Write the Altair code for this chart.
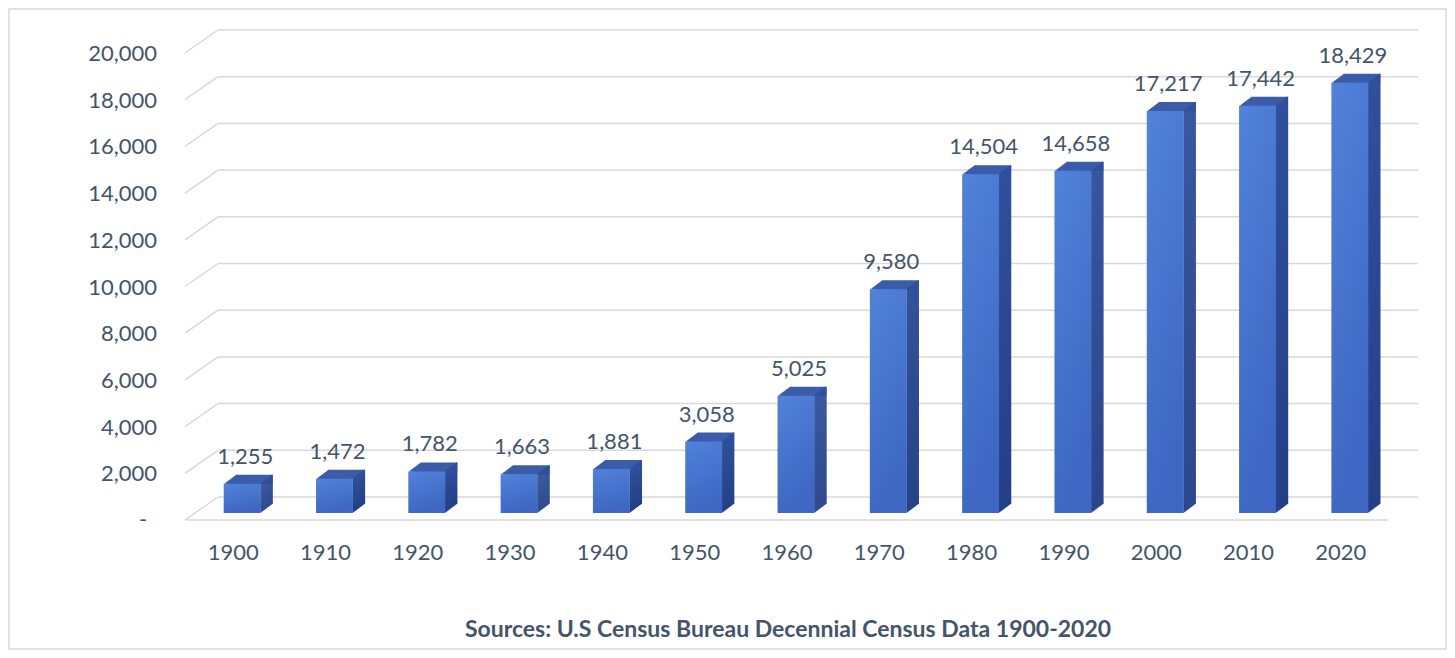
import altair as alt
import pandas as pd

# ---- data ----
years = [1900, 1910, 1920, 1930, 1940, 1950, 1960, 1970, 1980, 1990, 2000, 2010, 2020]
values = [1255, 1472, 1782, 1663, 1881, 3058, 5025, 9580, 14504, 14658, 17217, 17442, 18429]
y_ticks = [0, 2000, 4000, 6000, 8000, 10000, 12000, 14000, 16000, 18000, 20000]
source_text = "Sources: U.S Census Bureau Decennial Census Data 1900-2020"

# ---- styling ----
FONT = "Lato"
TEXT_COLOR = "#44546A"
GRID_COLOR = "#d9d9d9"
TOP_COLOR = "#3b5ca9"
DEPTH = 12          # px depth of the 3D bars
DEPTH_DY = 0.75     # vertical shift per px of depth
HALF = 2            # bar half-width in years

df = pd.DataFrame({"year": years, "value": values})
df["left"] = df["year"] - HALF
df["right"] = df["year"] + HALF
df["base"] = 0
ticks_df = pd.DataFrame({"tick": y_ticks})
one = pd.DataFrame({"a": [0]})

xscale = alt.Scale(domain=[1895, 2025], zero=False, nice=False)
yscale = alt.Scale(domain=[0, 20000], nice=False, zero=True)

base = alt.Chart(df)

# outer border
border = alt.Chart(one).mark_rect(
    fill="white", fillOpacity=0, stroke=GRID_COLOR, strokeWidth=1.5
).encode(
    x=alt.value(-187), x2=alt.value(1250), y=alt.value(-37), y2=alt.value(603)
)

# 3D-like gridlines: back wall lines, left side-wall diagonals, floor front edge
back_lines = alt.Chart(ticks_df).mark_rule(
    color=GRID_COLOR, strokeWidth=1.5, yOffset=-16
).encode(
    y=alt.Y("tick:Q", scale=yscale, axis=None),
    x=alt.value(22), x2=alt.value(1222),
)
diag_lines = alt.Chart(ticks_df).mark_rule(
    color=GRID_COLOR, strokeWidth=1.5, yOffset=7, y2Offset=-16
).encode(
    y=alt.Y("tick:Q", scale=yscale, axis=None),
    y2=alt.Y2("tick:Q"),
    x=alt.value(-11), x2=alt.value(22),
)
floor_front = alt.Chart(ticks_df).transform_filter("datum.tick == 0").mark_rule(
    color=GRID_COLOR, strokeWidth=1.5, yOffset=7
).encode(
    y=alt.Y("tick:Q", scale=yscale, axis=None),
    x=alt.value(-11), x2=alt.value(1192),
)

# y-axis labels (accounting style: zero shown as a dash)
y_labels = alt.Chart(ticks_df).transform_filter("datum.tick > 0").mark_text(
    font=FONT, fontSize=22, color=TEXT_COLOR, align="right", baseline="middle", dy=8
).encode(
    y=alt.Y("tick:Q", scale=yscale, axis=None),
    x=alt.value(-39),
    text=alt.Text("tick:Q", format=","),
)
y_zero = alt.Chart(ticks_df).transform_filter("datum.tick == 0").mark_text(
    text="-", font=FONT, fontSize=22, color=TEXT_COLOR, align="center",
    baseline="middle", dy=7
).encode(
    y=alt.Y("tick:Q", scale=yscale, axis=None),
    x=alt.value(-53),
)

# x-axis labels
x_labels = alt.Chart(df).mark_text(
    font=FONT, fontSize=22, color=TEXT_COLOR, align="center", baseline="middle", dx=-9
).encode(
    x=alt.X("year:Q", scale=xscale, axis=None),
    y=alt.value(507),
    text=alt.Text("year:Q", format="d"),
)

# top faces (stacked thin strips shifted back)
top_layers = []
for k in range(1, DEPTH + 1):
    top_layers.append(
        base.mark_rect(
            color=TOP_COLOR,
            xOffset=k, x2Offset=k,
            yOffset=-DEPTH_DY * k, y2Offset=0,
        ).encode(
            x=alt.X("left:Q", scale=xscale, axis=None),
            x2="right:Q",
            y=alt.Y("value:Q", scale=yscale, axis=None),
            y2="value:Q",
        )
    )

side_fill = alt.Gradient(
    gradient="linear",
    stops=[alt.GradientStop(color="#30509b", offset=0),
           alt.GradientStop(color="#233f86", offset=1)],
    x1=0, x2=0, y1=0, y2=1,
)
side_layers = []
for k in range(1, DEPTH + 1):
    side_layers.append(
        base.mark_rect(
            color=side_fill,
            xOffset=k - 1.3, x2Offset=k + 0.2,
            yOffset=-DEPTH_DY * k, y2Offset=-DEPTH_DY * k,
        ).encode(
            x=alt.X("right:Q", scale=xscale, axis=None),
            x2="right:Q",
            y=alt.Y("value:Q", scale=yscale, axis=None),
            y2="base:Q",
        )
    )

front_fill = alt.Gradient(
    gradient="linear",
    stops=[alt.GradientStop(color="#5282da", offset=0),
           alt.GradientStop(color="#3d67c2", offset=1)],
    x1=0, x2=0.3, y1=0, y2=1,
)
front = base.mark_rect(color=front_fill).encode(
    x=alt.X("left:Q", scale=xscale, axis=None),
    x2="right:Q",
    y=alt.Y("value:Q", scale=yscale, axis=None),
    y2="base:Q",
)

labels = base.mark_text(
    font=FONT, fontSize=22, color=TEXT_COLOR, baseline="bottom", dx=3, dy=-15
).encode(
    x=alt.X("year:Q", scale=xscale, axis=None),
    y=alt.Y("value:Q", scale=yscale, axis=None),
    text=alt.Text("value:Q", format=","),
)

source = alt.Chart(one).mark_text(
    text=source_text, font=FONT, fontSize=23, fontWeight="bold",
    color=TEXT_COLOR, align="center", baseline="middle",
).encode(x=alt.value(592), y=alt.value(584))

chart = alt.layer(
    border, back_lines, diag_lines, floor_front, y_labels, y_zero, x_labels,
    *top_layers, *side_layers, front, labels, source,
).properties(
    width=1200, height=467,
    autosize=alt.AutoSizeParams(type="none"),
    padding={"left": 188, "top": 38, "right": 51, "bottom": 137},
    background="white",
).configure_view(stroke=None)

chart.save("out.html", embed_options={"renderer": "svg", "actions": False})
